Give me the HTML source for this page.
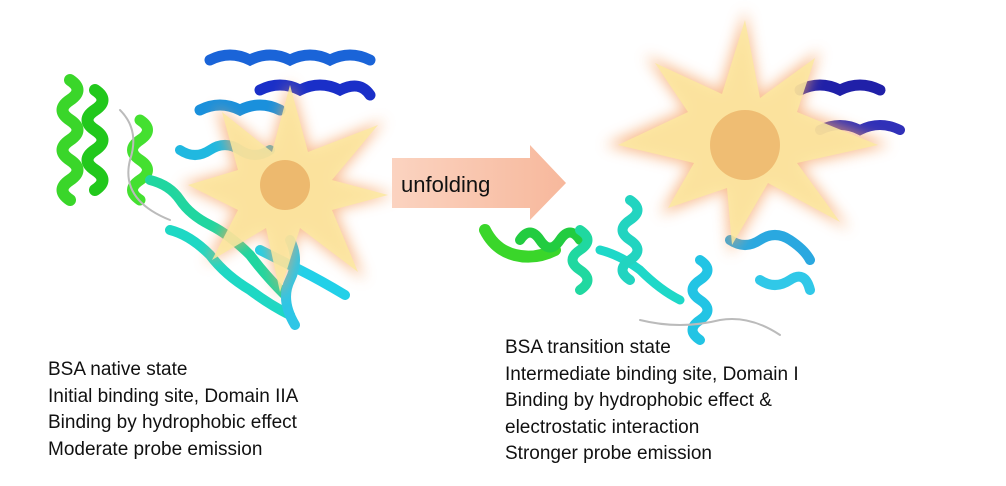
<!DOCTYPE html>
<html><head><meta charset="utf-8"><style>
html,body{margin:0;padding:0;background:#fff;}
#w{position:relative;width:1006px;height:486px;overflow:hidden;font-family:"Liberation Sans",sans-serif;}
.t{position:absolute;font-size:19px;color:#111;line-height:26.5px;}
</style></head><body><div id="w">
<svg width="1006" height="486" style="position:absolute;left:0;top:0">
<defs>
<filter id="g" x="-30%" y="-30%" width="160%" height="160%"><feGaussianBlur stdDeviation="7"/></filter>
<linearGradient id="ar" x1="0" x2="1"><stop offset="0" stop-color="#fbd3c0"/><stop offset="1" stop-color="#f7b89c"/></linearGradient>
</defs>
<!-- left protein -->
<g fill="none" stroke-linecap="round">
<path d="M70 80 q15 10 0 20 q-15 10 0 20 q15 10 0 20 q-15 10 0 20 q15 10 0 20 q-15 10 0 20" stroke="#3ad62a" stroke-width="12"/>
<path d="M95 90 q15 10 0 20 q-15 10 0 20 q15 10 0 20 q-15 10 0 20 q15 10 0 20" stroke="#22c81c" stroke-width="12"/>
<path d="M140 120 q15 10 0 20 q-15 10 0 20 q15 10 0 20 q-15 10 0 20" stroke="#44e030" stroke-width="11"/>
<path d="M150 180 q20 5 30 20 q10 15 30 25 q20 10 40 30 q15 20 35 40" stroke="#20d6a0" stroke-width="10"/>
<path d="M170 230 q20 5 40 25 q15 20 40 35 q20 15 40 25" stroke="#1ed8c4" stroke-width="10"/>
<path d="M260 250 q20 10 40 20 q20 10 45 25" stroke="#22d0e8" stroke-width="10"/>
<path d="M290 240 q10 20 0 40 q-10 20 5 45" stroke="#2ec6e6" stroke-width="10"/>
<path d="M210 60 q20 -10 40 0 q20 -10 40 0 q20 -10 40 0 q20 -10 40 0" stroke="#1a64d8" stroke-width="11"/>
<path d="M260 90 q20 -10 40 0 q20 -10 40 0 q20 -10 30 5" stroke="#1a2fc8" stroke-width="11"/>
<path d="M200 110 q20 -10 40 0 q20 -10 40 0" stroke="#1a90dc" stroke-width="11"/>
<path d="M180 150 q15 10 30 0 q15 -10 30 0 q15 10 30 0" stroke="#20b8e0" stroke-width="10"/>
<path d="M120 110 q20 20 10 50 q-10 40 40 60" stroke="#bbb" stroke-width="2"/>
</g>
<!-- left star -->
<g>
<polygon filter="url(#g)" fill="#f6a060" opacity=".7" points="290,80 310,150 385,120 335,180 395,195 335,210 365,280 300,230 280,300 265,230 205,265 235,210 180,185 235,170 215,105 270,150"/>
<polygon fill="#fbe9a0" opacity=".85" points="290,85 308,152 378,125 332,180 388,195 332,210 358,272 300,228 280,292 266,228 212,260 238,210 188,185 238,170 222,112 272,152"/>
<circle cx="285" cy="185" r="25" fill="#e09040" opacity=".5"/>
</g>
<!-- arrow -->
<polygon points="392,158 530,158 530,145 566,183 530,220 530,208 392,208" fill="url(#ar)"/>
<text x="401" y="192" font-family="Liberation Sans, sans-serif" font-size="22" fill="#111">unfolding</text>
<!-- right protein -->
<g fill="none" stroke-linecap="round">
<path d="M485 230 q10 20 30 25 q20 5 40 -5" stroke="#3ad62a" stroke-width="12"/>
<path d="M520 240 q10 -15 20 0 q10 15 20 0 q10 -15 20 0" stroke="#22cc40" stroke-width="10"/>
<path d="M580 230 q15 10 0 20 q-15 10 0 20 q15 10 0 20" stroke="#20d8a0" stroke-width="10"/>
<path d="M600 250 q20 5 40 20 q20 20 40 30" stroke="#1ed8c8" stroke-width="9"/>
<path d="M630 200 q15 10 0 20 q-15 10 0 20 q15 10 0 20 q-15 10 0 20" stroke="#22d4c0" stroke-width="10"/>
<path d="M700 260 q15 10 0 20 q-15 10 0 20 q15 10 0 20 q-15 10 0 20" stroke="#22c4e4" stroke-width="10"/>
<path d="M730 240 q15 10 30 0 q15 -10 30 0 q15 10 20 20" stroke="#2aa8e0" stroke-width="10"/>
<path d="M760 280 q15 10 30 0 q15 -10 20 10" stroke="#30c8e8" stroke-width="10"/>
<path d="M800 90 q20 -10 40 0 q20 -10 40 0" stroke="#2020a8" stroke-width="11"/>
<path d="M820 130 q20 -10 40 0 q20 -10 40 0" stroke="#3030b8" stroke-width="10"/>
<path d="M640 320 q40 10 80 0 q30 -5 60 15" stroke="#bbb" stroke-width="2"/>
</g>
<!-- right star -->
<g>
<polygon filter="url(#g)" fill="#f6a060" opacity=".7" points="745,10 760,95 820,50 800,110 890,145 800,165 850,230 770,185 730,255 725,190 660,215 690,165 605,145 685,110 645,55 720,90"/>
<polygon fill="#fbe9a0" opacity=".85" points="745,20 760,98 815,58 797,112 878,145 797,163 840,222 768,183 732,245 727,188 668,208 694,163 618,145 688,112 655,63 722,94"/>
<circle cx="745" cy="145" r="35" fill="#e09040" opacity=".45"/>
</g>
</svg>
<div class="t" style="left:48px;top:357px">BSA native state<br>Initial binding site, Domain IIA<br>Binding by hydrophobic effect<br>Moderate probe emission</div>
<div class="t" style="left:505px;top:335px">BSA transition state<br>Intermediate binding site, Domain I<br>Binding by hydrophobic effect &amp;<br>electrostatic interaction<br>Stronger probe emission</div>
</div></body></html>
